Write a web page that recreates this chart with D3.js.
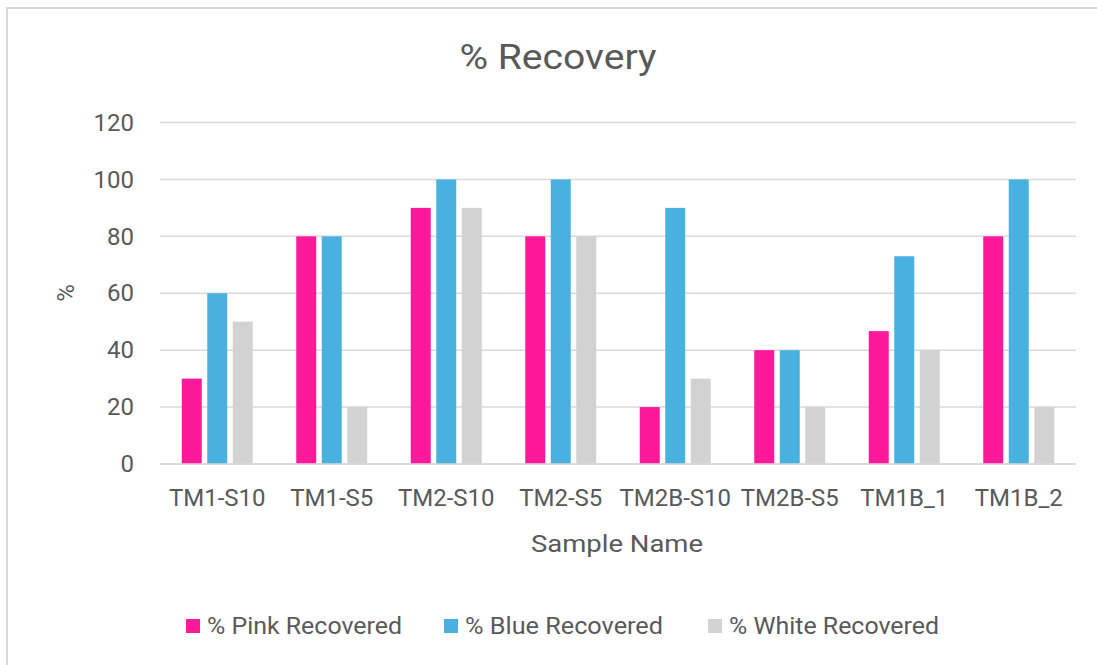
<!DOCTYPE html>
<html>
<head>
<meta charset="utf-8">
<script src="https://cdn.jsdelivr.net/npm/d3@7"></script>
<style>
  html, body { margin: 0; padding: 0; background: #fff; }
  svg { display: block; }
  text { font-family: Roboto, "Liberation Sans", sans-serif; fill: #595959; }
</style>
</head>
<body>
<svg id="chart" width="1097" height="665"></svg>
<script>
// Sample names along the x axis
const categories = ["TM1-S10", "TM1-S5", "TM2-S10", "TM2-S5", "TM2B-S10", "TM2B-S5", "TM1B_1", "TM1B_2"];
// Series names (legend order)
const seriesNames = ["% Pink Recovered", "% Blue Recovered", "% White Recovered"];
// Recovery per sample, one array per series
const pinkValues  = [30, 80, 90, 80, 20, 40, 46.7, 80];
const blueValues  = [60, 80, 100, 100, 90, 40, 73, 100];
const whiteValues = [50, 20, 90, 80, 30, 20, 40, 20];
// y-axis ticks
const yTicks = [0, 20, 40, 60, 80, 100, 120];

const seriesValues = [pinkValues, blueValues, whiteValues];
const colors = ["#FC1A9B", "#48B1E0", "#D2D2D2"];
const font = "Roboto, 'Liberation Sans', sans-serif";

const svg = d3.select("#chart");

// Chart border
svg.append("rect")
  .attr("x", 7).attr("y", 8)
  .attr("width", 1100).attr("height", 680)
  .attr("fill", "none").attr("stroke", "#D9D9D9").attr("stroke-width", 2);

const plot = { left: 160, right: 1076, top: 122.5, bottom: 464 };

const x0 = d3.scaleBand().domain(categories).range([plot.left, plot.right]).padding(0);
const bw = x0.bandwidth();
const x1 = d3.scaleBand().domain(seriesNames)
  .range([bw * 0.19, bw * 0.81]).paddingInner(0.216).paddingOuter(0);
const y = d3.scaleLinear().domain([0, 120]).range([plot.bottom, plot.top]);

// Gridlines
svg.append("g").selectAll("line").data(yTicks).join("line")
  .attr("x1", plot.left).attr("x2", plot.right)
  .attr("y1", d => y(d)).attr("y2", d => y(d))
  .attr("stroke", "#D9D9D9").attr("stroke-width", 1.5);

// y tick labels
const yAxis = d3.axisLeft(y).tickValues(yTicks).tickSize(0).tickPadding(0);
const gy = svg.append("g").attr("transform", `translate(${plot.left - 26},0)`).call(yAxis);
gy.select(".domain").remove();
gy.selectAll("text").attr("font-size", 24).style("font-family", font).attr("fill", "#595959");

// Bars
const groups = svg.append("g").selectAll("g").data(categories).join("g")
  .attr("transform", d => `translate(${x0(d)},0)`);
groups.selectAll("rect")
  .data((c, i) => seriesNames.map((s, k) => ({ s, k, v: seriesValues[k][i] })))
  .join("rect")
  .attr("x", d => x1(d.s))
  .attr("width", x1.bandwidth())
  .attr("y", d => y(d.v))
  .attr("height", d => y(0) - y(d.v))
  .attr("fill", d => colors[d.k]);

// Baseline
svg.append("line")
  .attr("x1", plot.left).attr("x2", plot.right)
  .attr("y1", y(0)).attr("y2", y(0))
  .attr("stroke", "#D9D9D9").attr("stroke-width", 1.5);

// x tick labels
const xAxis = d3.axisBottom(x0).tickSize(0).tickPadding(0);
const gx = svg.append("g").attr("transform", `translate(0,${plot.bottom + 25})`).call(xAxis);
gx.select(".domain").remove();
gx.selectAll("text").attr("font-size", 24).style("font-family", font).attr("fill", "#595959");

// Title
svg.append("text")
  .attr("x", 558).attr("y", 69)
  .attr("text-anchor", "middle").attr("font-size", 35)
  .attr("textLength", 197).attr("lengthAdjust", "spacingAndGlyphs")
  .text("% Recovery");

// Axis titles
svg.append("text")
  .attr("x", 617).attr("y", 552)
  .attr("text-anchor", "middle").attr("font-size", 24)
  .attr("textLength", 172).attr("lengthAdjust", "spacingAndGlyphs")
  .text("Sample Name");
svg.append("text")
  .attr("transform", "translate(74,293) rotate(-90)")
  .attr("text-anchor", "middle").attr("font-size", 24)
  .text("%");

// Legend
const legendX = [186, 444, 708];
const legendW = [195, 198, 210];
const legend = svg.append("g").selectAll("g").data(seriesNames).join("g")
  .attr("transform", (d, i) => `translate(${legendX[i]},619)`);
legend.append("rect").attr("width", 14).attr("height", 14).attr("fill", (d, i) => colors[i]);
legend.append("text").attr("x", 21).attr("y", 15).attr("font-size", 23)
  .attr("textLength", (d, i) => legendW[i]).attr("lengthAdjust", "spacingAndGlyphs")
  .text(d => d);
</script>
</body>
</html>
